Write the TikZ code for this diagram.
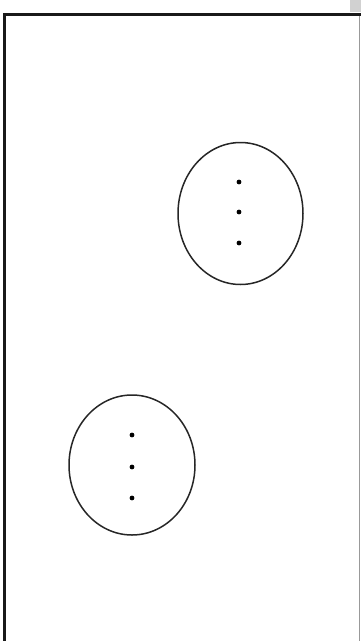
\documentclass[tikz,border=0pt]{standalone}
\usetikzlibrary{shapes.geometric}
\begin{document}
\begin{tikzpicture}[x=1pt,y=-1pt,
  setshape/.style={draw=black!85,line width=1.5pt,ellipse,inner sep=0pt,minimum width=125pt,minimum height=142pt},
  elem/.style={circle,fill=black,inner sep=0pt,minimum size=4.8pt},
  frameline/.style={line width=3pt,black!90}]
\useasboundingbox (0,0) rectangle (361,641);
\fill[black!18] (350,0) rectangle (361,12);
\draw[frameline] (4,641) -- (4,14) -- (361,14);
\draw[black!40,line width=0.7pt] (359.5,16) -- (359.5,641);
\node[setshape] (A) at (240.5,213.5) {};
\node[elem] (a1) at (239,182) {};
\node[elem] (a2) at (239,212) {};
\node[elem] (a3) at (239,243) {};
\node[setshape,minimum width=126pt,minimum height=140pt] (B) at (132,465) {};
\node[elem] (b1) at (132,435) {};
\node[elem] (b2) at (132,467) {};
\node[elem] (b3) at (132,498) {};
\end{tikzpicture}
\end{document}
